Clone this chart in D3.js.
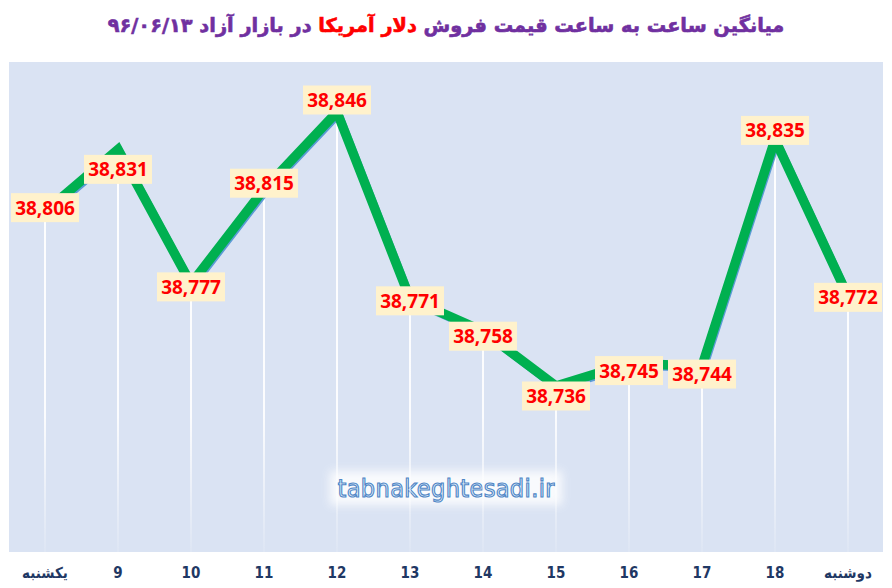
<!doctype html>
<html>
  <head>
    <meta charset="utf-8">
    <script src="https://cdnjs.cloudflare.com/ajax/libs/d3/7.8.5/d3.min.js"></script>
    <style>
      body { margin: 0; background: #fff; }
      rect.panel { fill: #DAE3F3; }
      line.drop { stroke: url(#dropFade); stroke-width: 2; }
      path.shadow { fill: none; stroke: #5B9BD5; stroke-width: 8; }
      path.price { fill: none; stroke: #00B050; stroke-width: 9.5; }
      rect.lbox { fill: #FFF2CC; }
      text.lbl { fill: #FF0000; font: bold 19px "Open Sans", sans-serif; text-anchor: middle; }
      text.xtick { fill: #1F3864; font: bold 15px "Liberation Sans Narrow", "DejaVu Sans Condensed", sans-serif; text-anchor: middle; }
      text.title { font-family: "DejaVu Sans", sans-serif; font-weight: bold; stroke-width: 0.6; }
    </style>
  </head>
  <body>
    <svg id="chart" width="892" height="588"></svg>
    <script>
      // hours of the day (first and last are day names)
      var hours = ["یکشنبه", "9", "10", "11", "12", "13", "14", "15", "16", "17", "18", "دوشنبه"];
      // average selling price of the US dollar, toman
      var prices = [38806, 38831, 38777, 38815, 38846, 38771, 38758, 38736, 38745, 38744, 38835, 38772];
      // nudges of the value boxes off their points (px)
      var labelShift = [-4, 20, 3, -6, -12, 2, 5, 10, 7, 8, -9, 1];

      var titleStart = "میانگین ساعت به ساعت قیمت فروش ";
      var titleRed = "دلار آمریکا";
      var titleEnd = " در بازار آزاد ۹۶/۰۶/۱۳";

      var svg = d3.select("#chart");

      var x = d3.scalePoint().domain(hours).range([45, 848]);
      var y = d3.scaleLinear().domain([38736, 38846]).range([386, 112]);

      var defs = svg.append("defs");
      var fade = defs.append("linearGradient")
          .attr("id", "dropFade")
          .attr("gradientUnits", "userSpaceOnUse")
          .attr("x1", 0).attr("y1", 62).attr("x2", 0).attr("y2", 552);
      fade.append("stop").attr("offset", "0").attr("stop-color", "#fff").attr("stop-opacity", 1);
      fade.append("stop").attr("offset", "0.72").attr("stop-color", "#fff").attr("stop-opacity", 0.9);
      fade.append("stop").attr("offset", "1").attr("stop-color", "#fff").attr("stop-opacity", 0.1);

      var glow = defs.append("filter").attr("id", "glow")
          .attr("x", "-20%").attr("y", "-60%").attr("width", "140%").attr("height", "220%");
      glow.append("feGaussianBlur").attr("stdDeviation", 5);

      // title
      var title = svg.append("text")
          .attr("class", "title")
          .attr("x", 446).attr("y", 32)
          .attr("direction", "rtl")
          .attr("text-anchor", "middle")
          .style("font-size", "20px");
      title.append("tspan").attr("fill", "#7030A0").attr("stroke", "#7030A0").text(titleStart);
      title.append("tspan").attr("fill", "#FF0000").attr("stroke", "#FF0000").text(titleRed);
      title.append("tspan").attr("fill", "#7030A0").attr("stroke", "#7030A0").text(titleEnd);
      var tw = title.node().getComputedTextLength();
      title.style("font-size", (20 * 677 / tw).toFixed(2) + "px");

      // plot panel
      svg.append("rect").attr("class", "panel")
          .attr("x", 9).attr("y", 62).attr("width", 874).attr("height", 490);

      // watermark
      var wm = svg.append("g").attr("transform", "translate(446,497)");
      wm.append("rect")
          .attr("x", -116).attr("y", -26).attr("width", 232).attr("height", 34)
          .attr("fill", "#fff").attr("opacity", 0.85)
          .attr("filter", "url(#glow)");
      wm.append("text")
          .attr("text-anchor", "middle")
          .attr("textLength", 217)
          .style("font", "25px 'DejaVu Sans Condensed', sans-serif")
          .attr("fill", "#E2EEF9")
          .attr("stroke", "#4F86C6")
          .attr("stroke-width", 1.1)
          .text("tabnakeghtesadi.ir");

      // white drop lines
      svg.selectAll("line.drop")
        .data(prices)
        .enter()
        .append("line")
          .attr("class", "drop")
          .attr("x1", (d, i) => x(hours[i]))
          .attr("x2", (d, i) => x(hours[i]))
          .attr("y1", d => y(d))
          .attr("y2", 552);

      var line = d3.line()
          .x((d, i) => x(hours[i]))
          .y(d => y(d));

      svg.append("path")
          .datum(prices)
          .attr("class", "shadow")
          .attr("transform", "translate(1.5,2)")
          .attr("d", line);

      svg.append("path")
          .datum(prices)
          .attr("class", "price")
          .attr("d", line);

      // value boxes
      var labels = svg.selectAll("g.label")
        .data(prices)
        .enter()
        .append("g")
          .attr("class", "label")
          .attr("transform", (d, i) => "translate(" + x(hours[i]) + "," + (y(d) + labelShift[i]) + ")");

      labels.append("rect")
          .attr("class", "lbox")
          .attr("x", -34).attr("y", -14.5)
          .attr("width", 68).attr("height", 29);

      labels.append("text")
          .attr("class", "lbl")
          .attr("y", 7)
          .text(d => d3.format(",")(d));

      // hour axis
      var axis = svg.append("g").attr("transform", "translate(0,578)");
      axis.selectAll("text.xtick")
        .data(hours)
        .enter()
        .append("text")
          .attr("class", "xtick")
          .attr("x", d => x(d))
          .text(d => d);
    </script>
  </body>
</html>
